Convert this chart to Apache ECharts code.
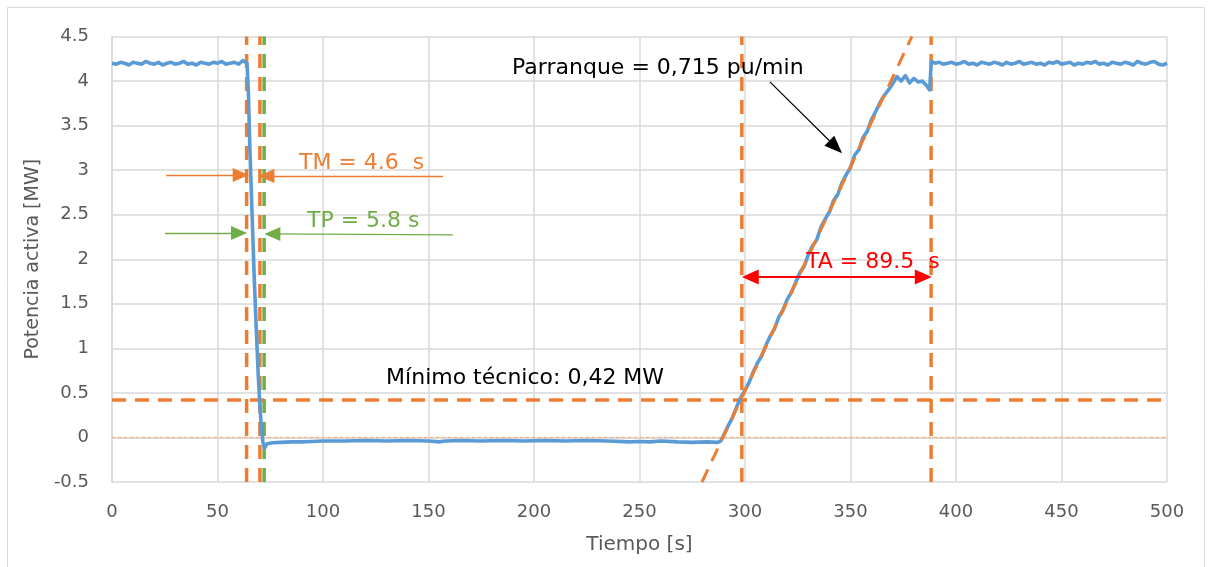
<!DOCTYPE html>
<html><head><meta charset="utf-8">
<script src="https://cdn.jsdelivr.net/npm/echarts@6/dist/echarts.min.js"></script>
<style>html,body{margin:0;padding:0;background:#fff}#c{width:1212px;height:567px}</style>
</head><body><div id="c"></div>
<script>
// ---- data (time [s], active power [MW]) ----
const preTrip = [[0,4.20],[2,4.19],[4,4.21],[6,4.20],[8,4.18],[10,4.21],[12,4.20],[14,4.19],[16,4.22],[18,4.20],[20,4.19],[22,4.21],[24,4.18],[26,4.20],[28,4.21],[30,4.19],[32,4.20],[34,4.22],[36,4.19],[38,4.20],[40,4.18],[42,4.21],[44,4.20],[46,4.19],[48,4.21],[50,4.20],[52,4.22],[54,4.19],[56,4.20],[58,4.21],[60,4.19],[62,4.23],[64,4.20]];
const tripDrop = [[64.6,3.9],[65.4,3.2],[66.4,2.5],[67.4,1.8],[68.4,1.2],[69.3,0.7],[70.0,0.4],[70.8,0.1],[71.5,-0.05],[72.3,-0.12]];
const stopped = [[73.5,-0.07],[76,-0.06],[80,-0.055],[85,-0.05],[90,-0.05],[95,-0.045],[100,-0.04],[110,-0.04],[120,-0.035],[130,-0.04],[140,-0.035],[150,-0.04],[155,-0.05],[158,-0.04],[165,-0.035],[175,-0.04],[185,-0.035],[195,-0.04],[205,-0.035],[215,-0.04],[225,-0.035],[235,-0.04],[245,-0.05],[250,-0.045],[255,-0.05],[260,-0.04],[268,-0.05],[275,-0.055],[282,-0.05],[287,-0.055],[288.5,-0.04]];
const rampUp = [[290,0.03],[292,0.13],[294,0.22],[296,0.34],[298,0.45],[300,0.53],[302,0.62],[304,0.74],[306,0.84],[308,0.92],[310,1.04],[312,1.14],[314,1.22],[316,1.35],[318,1.43],[320,1.55],[322,1.63],[324,1.74],[326,1.85],[328,1.92],[330,2.05],[332,2.15],[334,2.22],[336,2.36],[338,2.45],[340,2.53],[342,2.66],[344,2.73],[346,2.86],[348,2.95],[350,3.03],[352,3.17],[354,3.23],[356,3.37],[358,3.44],[360,3.57],[362,3.66],[364,3.76],[366,3.84],[368,3.90],[370,3.97],[372,4.05],[374,4.00],[376,4.06],[378,3.98],[380,4.03],[382,3.99],[384,4.00],[386,3.95],[387.5,3.90]];
const postSync = [[388.3,4.22],[390,4.20],[392,4.21],[394,4.19],[396,4.20],[398,4.21],[400,4.19],[402,4.20],[404,4.22],[406,4.19],[408,4.20],[410,4.18],[412,4.21],[414,4.20],[416,4.19],[418,4.21],[420,4.20],[422,4.18],[424,4.21],[426,4.19],[428,4.20],[430,4.22],[432,4.19],[434,4.20],[436,4.21],[438,4.19],[440,4.20],[442,4.18],[444,4.21],[446,4.20],[448,4.22],[450,4.19],[452,4.20],[454,4.21],[456,4.18],[458,4.20],[460,4.19],[462,4.21],[464,4.20],[466,4.22],[468,4.19],[470,4.20],[472,4.18],[474,4.21],[476,4.20],[478,4.19],[480,4.21],[482,4.20],[484,4.18],[486,4.22],[488,4.20],[490,4.19],[492,4.21],[494,4.22],[496,4.19],[498,4.18],[500,4.20]];

// reference markers
const tmLines = [63.8, 70.1];       // orange verticals (TM)
const tpLines = [72.1];             // green vertical (TP)
const taLines = [298.5, 388.2];     // orange verticals (TA)
const minTecnico = 0.42;            // MW
const rampRef = [[279.6,-0.5],[379.1,4.5]]; // 0,715 pu/min reference
const xRange = [0, 500];
const yRange = [-0.5, 4.5];

// annotations: [x, y] in data units
const tmArrows = [[[25.6,2.946],[61.0,2.946]], [[156.9,2.935],[73.2,2.935]]];
const tpArrows = [[[25.1,2.295],[60.2,2.295]], [[161.6,2.273],[76.0,2.284]]];
const taArrow = [[302.5,1.80],[384.5,1.80]];
const rampArrow = [[311.8,3.99],[343.0,3.26]];
const labels = [
  {text:'Parranque = 0,715 pu/min', at:[189.6,4.147], color:'#000000'},
  {text:'Mínimo técnico: 0,42 MW', at:[129.9,0.668], color:'#000000'},
  {text:'TM = 4.6  s', at:[88.6,3.08], color:'#ED7D31'},
  {text:'TP = 5.8 s', at:[92.4,2.43], color:'#70AD47'},
  {text:'TA = 89.5  s', at:[328.9,1.97], color:'#FF0000'}
];

const ORANGE = '#ED7D31', GREEN = '#70AD47', BLUE = '#5B9BD5', RED = '#FF0000', GREY = '#595959';
const FONT = 'DejaVu Sans';
const dash = [14, 9];

const power = [].concat(preTrip, tripDrop, stopped, rampUp, postSync);

function vline(x, color){
  return {type:'line', data:[[x,yRange[0]],[x,yRange[1]]], symbol:'none', silent:true,
    lineStyle:{color:color, width:3.5, type:dash, cap:'butt'}, z:2};
}
function arrowSeries(segs, color, width, symbols, size){
  return {type:'line', data:[], silent:true,
    markLine:{silent:true, symbol:symbols, symbolSize:size, animation:false,
      label:{show:false}, emphasis:{disabled:true},
      lineStyle:{color:color, width:width, type:'solid'},
      data: segs.map(s=>[{coord:s[0]},{coord:s[1]}])}, z:6};
}

const series = [];
series.push({type:'line', data:[[xRange[0],0],[xRange[1],0]], symbol:'none', silent:true,
  lineStyle:{color:'#F4B183', width:1.2, type:[3,3]}, z:1});
tmLines.forEach(x=>series.push(vline(x, ORANGE)));
tpLines.forEach(x=>series.push(vline(x, GREEN)));
taLines.forEach(x=>series.push(vline(x, ORANGE)));
series.push({type:'line', data:[[xRange[0],minTecnico],[xRange[1],minTecnico]], symbol:'none', silent:true,
  lineStyle:{color:ORANGE, width:3.5, type:dash}, z:2});
series.push({type:'line', data:power, symbol:'none', silent:true,
  lineStyle:{color:BLUE, width:3.6, join:'round'}, z:3});
series.push({type:'line', data:rampRef, symbol:'none', silent:true,
  lineStyle:{color:ORANGE, width:3, type:dash}, z:4});
series.push(arrowSeries(tmArrows, ORANGE, 1.3, ['none','triangle'], [14,16]));
series.push(arrowSeries(tpArrows, GREEN, 1.3, ['none','triangle'], [14,16]));
series.push(arrowSeries([taArrow], RED, 2, ['triangle','triangle'], [15,17]));
series.push(arrowSeries([rampArrow], '#000000', 1.2, ['none','triangle'], [14,18]));

const chart = echarts.init(document.getElementById('c'), null, {renderer:'canvas'});
chart.setOption({
  animation:false,
  backgroundColor:'#ffffff',
  grid:{left:112, right:45, top:36.5, bottom:85},
  xAxis:{type:'value', min:xRange[0], max:xRange[1], interval:50,
    name:'Tiempo [s]', nameLocation:'middle', nameGap:53,
    nameTextStyle:{fontFamily:FONT, fontSize:20, color:GREY},
    axisLine:{show:true, lineStyle:{color:'#D9D9D9', width:1.5}}, axisTick:{show:false},
    axisLabel:{fontFamily:FONT, fontSize:18, color:GREY, margin:21},
    splitLine:{show:true, lineStyle:{color:'#D9D9D9', width:1.5}}},
  yAxis:{type:'value', min:yRange[0], max:yRange[1], interval:0.5,
    name:'Potencia activa [MW]', nameLocation:'middle', nameGap:68,
    nameTextStyle:{fontFamily:FONT, fontSize:19, color:GREY},
    axisLine:{show:true, lineStyle:{color:'#D9D9D9', width:1.5}}, axisTick:{show:false},
    axisLabel:{fontFamily:FONT, fontSize:18, color:GREY, margin:23},
    splitLine:{show:true, lineStyle:{color:'#D9D9D9', width:1.5}}},
  series:series
});

const g = [{type:'rect', shape:{x:7.5, y:7.5, width:1197, height:700}, silent:true,
  style:{fill:'none', stroke:'#D9D9D9', lineWidth:1}, z:0}];
labels.forEach(l=>{
  const p = chart.convertToPixel({gridIndex:0}, l.at);
  g.push({type:'text', x:p[0], y:p[1], silent:true, z:10,
    style:{text:l.text, fill:l.color, font:'22px "' + FONT + '"', textAlign:'left', textVerticalAlign:'middle'}});
});
chart.setOption({graphic:g});
</script></body></html>
